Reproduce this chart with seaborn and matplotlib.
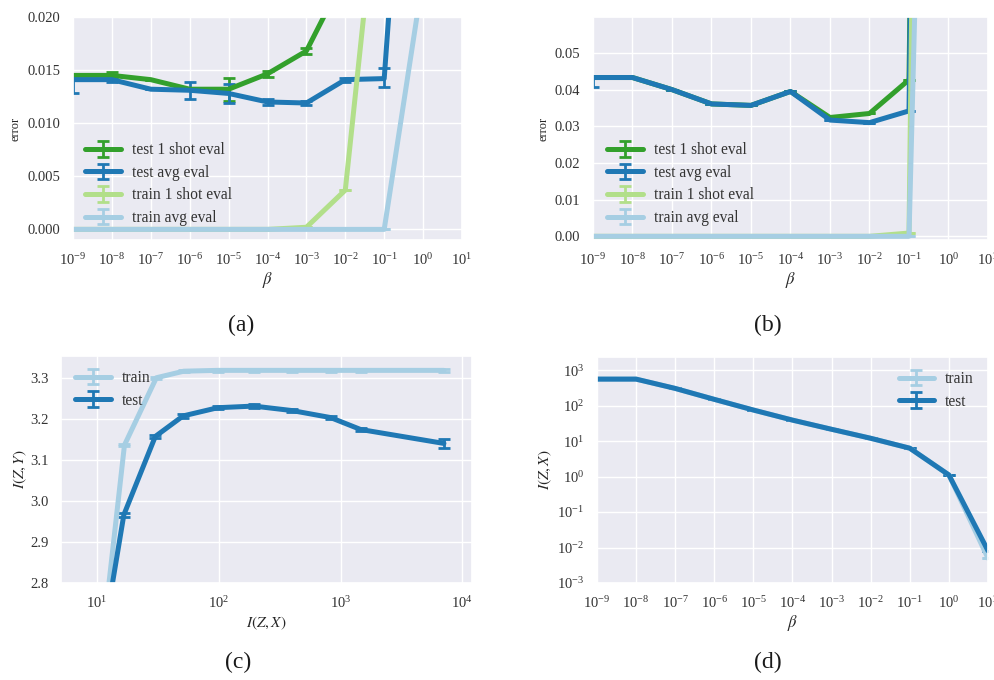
import matplotlib
matplotlib.use("Agg")
import matplotlib.pyplot as plt
import seaborn as sns
from matplotlib.ticker import FixedLocator, FormatStrFormatter, LogLocator, NullLocator, LogFormatterSciNotation

# ---------------- data ----------------
beta = [1e-9, 1e-8, 1e-7, 1e-6, 1e-5, 1e-4, 1e-3, 1e-2, 1e-1, 1e0]

# (a) error vs beta
a_test_1shot = [0.0145, 0.0145, 0.0141, 0.0132, 0.0132, 0.01465, 0.0168, 0.024, 0.05, 0.5]
a_test_1shot_err = [0.0, 0.0003, 0.0, 0.0, 0.0011, 0.0003, 0.0003, 0.0, 0.0, 0.0]
a_test_avg = [0.0141, 0.0141, 0.0132, 0.0131, 0.0128, 0.0120, 0.0119, 0.0141, 0.0142, 0.065]
a_test_avg_err_lo = [0.0013, 0.0002, 0.0, 0.0008, 0.0009, 0.0003, 0.0002, 0.0002, 0.0008, 0.0]
a_test_avg_err_hi = [0.0003, 0.0002, 0.0, 0.0008, 0.0009, 0.0003, 0.0002, 0.0002, 0.0010, 0.0]
a_train_1shot = [0.0, 0.0, 0.0, 0.0, 0.0, 0.0, 0.0002, 0.0037, 0.0384, 0.3]
a_train_avg = [0.0, 0.0, 0.0, 0.0, 0.0, 0.0, 0.0, 0.0, 0.0, 0.0238]

# (b) error vs beta
b_test_1shot = [0.0433, 0.0433, 0.0400, 0.0361, 0.0357, 0.0395, 0.0324, 0.0335, 0.0427, 0.9]
b_test_avg = [0.0433, 0.0433, 0.0400, 0.0361, 0.0357, 0.0395, 0.0317, 0.0310, 0.0342, 0.9]
b_test_avg_err_lo = [0.0027, 0, 0, 0, 0, 0, 0, 0, 0, 0]
b_train_1shot = [0.0, 0.0, 0.0, 0.0, 0.0, 0.0, 0.0, 0.0, 0.0009, 0.9]
b_train_avg = [0.0, 0.0, 0.0, 0.0, 0.0, 0.0, 0.0, 0.0, 0.0, 0.42]

# (c) I(Z,Y) vs I(Z,X)
c_train_x = [12.0, 16.8, 30.7, 51.6, 98, 194, 401, 828, 1459, 7060]
c_train_y = [2.75, 3.136, 3.300, 3.316, 3.318, 3.318, 3.318, 3.318, 3.318, 3.318]
c_train_err = [0.003] * 10
c_test_x = [12.4, 16.6, 30.1, 50.9, 98, 194, 401, 828, 1459, 7060]
c_test_y = [2.74, 2.966, 3.157, 3.207, 3.227, 3.231, 3.220, 3.203, 3.174, 3.140]
c_test_err = [0.004, 0.004, 0.004, 0.004, 0.004, 0.004, 0.004, 0.004, 0.004, 0.012]

# (d) I(Z,X) vs beta
beta_d = [1e-9, 1e-8, 1e-7, 1e-6, 1e-5, 1e-4, 1e-3, 1e-2, 1e-1, 1e0, 1e1]
d_train = [558, 558, 305, 150, 75, 39, 21.5, 12, 6.3, 1.11, 0.005]
d_test = [558, 558, 305, 150, 75, 39, 21.5, 12, 6.3, 1.11, 0.0081]

# ---------------- style ----------------
sns.set_theme(style="darkgrid")
plt.rcParams["font.family"] = ["Liberation Serif", "DejaVu Serif"]
plt.rcParams["mathtext.fontset"] = "stix"
plt.rcParams["text.color"] = "0.2"
plt.rcParams["xtick.color"] = "0.2"
plt.rcParams["ytick.color"] = "0.2"

pal = sns.color_palette("Paired")
light_blue, dark_blue, light_green, dark_green = pal[0], pal[1], pal[2], pal[3]

W, H = 995, 680
fig = plt.figure(figsize=(W / 100, H / 100), dpi=100)


def px_axes(left, top, right, bottom):
    return fig.add_axes([left / W, 1 - bottom / H, (right - left) / W, (bottom - top) / H])


LW = 3.6
EB = dict(elinewidth=2.0, capsize=4, capthick=2.0)
LEG = dict(fontsize=11.2, frameon=False, handlelength=2.3, labelspacing=0.42,
           handletextpad=0.7)


def series(ax, x, y, color, label, yerr=None, z=2):
    if yerr is None:
        yerr = [0.0] * len(y)
    ax.errorbar(x, y, yerr=yerr, color=color, lw=LW, label=label, zorder=z, **EB)


def log_beta_axis(ax):
    ax.set_xscale("log")
    ax.set_xlim(1e-9, 1e1)
    ax.xaxis.set_major_locator(LogLocator(base=10, numticks=20))
    ax.xaxis.set_major_formatter(LogFormatterSciNotation())
    ax.xaxis.set_minor_locator(NullLocator())
    ax.set_xlabel(r"$\beta$", fontsize=12, labelpad=1)


def style_ticks(ax):
    ax.tick_params(axis="both", labelsize=10.5, pad=3)


# (a)
ax = px_axes(73, 17, 462, 240)
series(ax, beta, a_test_1shot, dark_green, "test 1 shot eval", a_test_1shot_err)
series(ax, beta, a_test_avg, dark_blue, "test avg eval", [a_test_avg_err_lo, a_test_avg_err_hi])
series(ax, beta, a_train_1shot, light_green, "train 1 shot eval")
series(ax, beta, a_train_avg, light_blue, "train avg eval")
log_beta_axis(ax)
ax.set_ylim(-0.001, 0.020)
ax.yaxis.set_major_locator(FixedLocator([0.0, 0.005, 0.010, 0.015, 0.020]))
ax.yaxis.set_major_formatter(FormatStrFormatter("%.3f"))
ax.set_ylabel("error", fontsize=9)
style_ticks(ax)
ax.legend(loc="lower left", bbox_to_anchor=(-0.005, 0.0), **LEG)

# (b)
ax = px_axes(593, 17, 988, 240)
series(ax, beta, b_test_1shot, dark_green, "test 1 shot eval")
series(ax, beta, b_test_avg, dark_blue, "test avg eval", [b_test_avg_err_lo, [0] * 10])
series(ax, beta, b_train_1shot, light_green, "train 1 shot eval")
series(ax, beta, b_train_avg, light_blue, "train avg eval")
log_beta_axis(ax)
ax.set_ylim(-0.001, 0.0598)
ax.yaxis.set_major_locator(FixedLocator([0.0, 0.01, 0.02, 0.03, 0.04, 0.05]))
ax.yaxis.set_major_formatter(FormatStrFormatter("%.2f"))
ax.set_ylabel("error", fontsize=9)
style_ticks(ax)
ax.legend(loc="lower left", bbox_to_anchor=(0.0, 0.0), **LEG)

# (c)
ax = px_axes(61, 356, 472, 583)
series(ax, c_train_x, c_train_y, light_blue, "train", c_train_err)
series(ax, c_test_x, c_test_y, dark_blue, "test", c_test_err)
ax.set_xscale("log")
ax.set_xlim(5.06, 12000)
ax.xaxis.set_major_locator(FixedLocator([1e1, 1e2, 1e3, 1e4]))
ax.xaxis.set_major_formatter(LogFormatterSciNotation())
ax.xaxis.set_minor_locator(NullLocator())
ax.set_ylim(2.8, 3.353)
ax.yaxis.set_major_locator(FixedLocator([2.8, 2.9, 3.0, 3.1, 3.2, 3.3]))
ax.yaxis.set_major_formatter(FormatStrFormatter("%.1f"))
ax.set_xlabel(r"$I(Z,X)$", fontsize=11, labelpad=2)
ax.set_ylabel(r"$I(Z,Y)$", fontsize=11, labelpad=1)
style_ticks(ax)
ax.legend(loc="upper left", bbox_to_anchor=(0.0, 1.0), **LEG)

# (d)
ax = px_axes(597, 357, 988, 583)
series(ax, beta_d, d_train, light_blue, "train")
series(ax, beta_d, d_test, dark_blue, "test")
log_beta_axis(ax)
ax.set_yscale("log")
ax.set_ylim(1e-3, 10 ** 3.37)
ax.yaxis.set_major_locator(FixedLocator([1e-3, 1e-2, 1e-1, 1e0, 1e1, 1e2, 1e3]))
ax.yaxis.set_major_formatter(LogFormatterSciNotation())
ax.yaxis.set_minor_locator(NullLocator())
ax.set_ylabel(r"$I(Z,X)$", fontsize=11, labelpad=2)
style_ticks(ax)
ax.legend(loc="upper right", bbox_to_anchor=(1.0, 1.0), **LEG)

# panel captions
for label, x, y in [("(a)", 241, 325), ("(b)", 768, 325), ("(c)", 238, 662), ("(d)", 768, 662)]:
    fig.text(x / W, 1 - y / H, label, ha="center", va="center", fontsize=17, color="0.1")

fig.savefig("out.png", dpi=100, facecolor="white")
